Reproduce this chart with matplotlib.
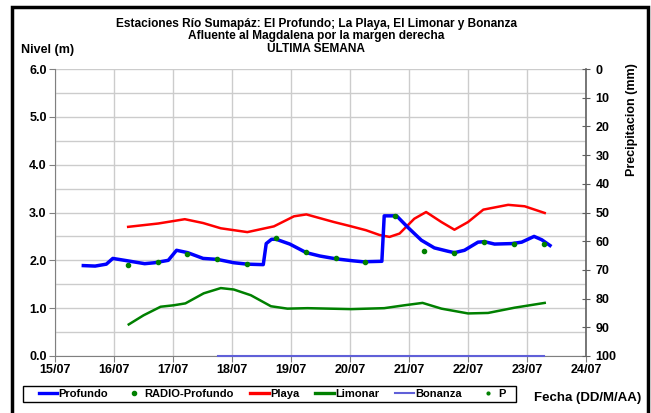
import matplotlib.pyplot as plt
from matplotlib.lines import Line2D
from matplotlib.patches import Rectangle
import numpy as np

plt.rcParams['font.family'] = ['Liberation Sans', 'DejaVu Sans']
plt.rcParams['font.weight'] = 'bold'

# dias de julio (fraccion del dia) y niveles
prof_dia = [15.48, 15.68, 15.87, 15.98, 16.18, 16.52, 16.69, 16.92, 17.06, 17.25,
            17.51, 17.75, 18.03, 18.26, 18.53, 18.58, 18.67, 18.75, 18.98, 19.26,
            19.49, 19.77, 20.05, 20.22, 20.54, 20.58, 20.79, 20.98, 21.21, 21.43,
            21.66, 21.77, 21.94, 22.17, 22.28, 22.45, 22.74, 22.91, 23.12, 23.25, 23.39]
prof_niv = [1.89, 1.88, 1.92, 2.04, 2.00, 1.93, 1.95, 2.00, 2.21, 2.16,
            2.04, 2.02, 1.95, 1.92, 1.91, 2.35, 2.44, 2.44, 2.34, 2.16,
            2.09, 2.03, 1.99, 1.97, 1.98, 2.93, 2.93, 2.69, 2.42, 2.26,
            2.19, 2.16, 2.21, 2.38, 2.39, 2.34, 2.35, 2.38, 2.50, 2.43, 2.31]

radio_dia = [16.24, 16.74, 17.24, 17.75, 18.25, 18.75, 19.26, 19.76, 20.26, 20.77,
             21.26, 21.77, 22.27, 22.78, 23.29]
radio_niv = [1.91, 1.97, 2.13, 2.02, 1.92, 2.47, 2.17, 2.05, 1.97, 2.92,
             2.19, 2.16, 2.39, 2.35, 2.34]

playa_dia = [16.24, 16.75, 17.20, 17.51, 17.81, 18.26, 18.71, 19.05, 19.26, 19.73,
             19.99, 20.27, 20.50, 20.67, 20.84, 21.09, 21.29, 21.55, 21.77, 22.00,
             22.26, 22.68, 22.96, 23.30]
playa_niv = [2.70, 2.77, 2.86, 2.78, 2.67, 2.59, 2.71, 2.92, 2.96, 2.80,
             2.72, 2.63, 2.53, 2.49, 2.56, 2.87, 3.01, 2.80, 2.64, 2.80,
             3.06, 3.16, 3.13, 2.99]

limo_dia = [16.25, 16.50, 16.79, 17.01, 17.21, 17.52, 17.81, 18.03, 18.32, 18.66,
            18.94, 19.28, 20.02, 20.58, 20.92, 21.23, 21.55, 22.00, 22.34, 22.79, 23.30]
limo_niv = [0.66, 0.85, 1.03, 1.06, 1.10, 1.31, 1.42, 1.39, 1.27, 1.04,
            0.99, 1.00, 0.98, 1.00, 1.06, 1.11, 0.99, 0.89, 0.90, 1.01, 1.11]

bona_dia = [17.76, 23.28]
bona_niv = [0.0, 0.0]

p_dia = []
p_mm = []

dias = list(range(15, 25))
etiq_dias = ['%02d/07' % d for d in dias]

fig = plt.figure(figsize=(6.51, 4.13), dpi=100)
ax = fig.add_axes([55/651, 1-356/413, (586-55)/651, (356-69)/413])

ax.plot(prof_dia, prof_niv, color='#0000ff', lw=2.5, zorder=4)
ax.plot(radio_dia, radio_niv, 'o', color='#008000', ms=3, zorder=5)
ax.plot(playa_dia, playa_niv, color='#ff0000', lw=1.8, zorder=3)
ax.plot(limo_dia, limo_niv, color='#008000', lw=1.8, zorder=3)
ax.plot(bona_dia, bona_niv, color='#6060d8', lw=1.5, zorder=3, clip_on=False)

ax.set_xlim(15, 24)
ax.set_ylim(0, 6)
ax.set_xticks(dias)
ax.set_xticklabels(etiq_dias)
ax.set_yticks(np.arange(0, 6.1, 1.0))
ax.set_yticks(np.arange(0, 6.1, 0.5), minor=True)
ax.yaxis.set_major_formatter(plt.FormatStrFormatter('%.1f'))
ax.grid(True, which='both', color='#cccccc', lw=1.0)
ax.tick_params(axis='y', which='minor', length=0)
ax.tick_params(labelsize=9, length=4, color='#808080', pad=2)
ax.set_axisbelow(True)
for s in ['top', 'right']:
    ax.spines[s].set_visible(False)
for s in ['left', 'bottom']:
    ax.spines[s].set_color('#808080')

ax2 = ax.twinx()
ax2.plot(p_dia, p_mm, 'o', color='#008000', ms=2)
ax2.set_ylim(100, 0)
ax2.set_yticks(np.arange(0, 101, 10))
ax2.tick_params(labelsize=9, length=6, direction='inout', color='#606060', pad=4)
for s in ['top', 'left', 'bottom']:
    ax2.spines[s].set_visible(False)
ax2.spines['right'].set_color('#606060')
ax2.spines['right'].set_linewidth(1.2)

fig.text(316/651, 1-23.5/413, 'Estaciones Río Sumapáz: El Profundo; La Playa, El Limonar y Bonanza',
         ha='center', va='center', fontsize=8.6)
fig.text(316/651, 1-36.5/413, 'Afluente al Magdalena por la margen derecha',
         ha='center', va='center', fontsize=8.6)
fig.text(316/651, 1-49/413, 'ULTIMA SEMANA', ha='center', va='center', fontsize=8.6)
fig.text(21/651, 1-50/413, 'Nivel (m)', ha='left', va='center', fontsize=9)
fig.text(632/651, 1-120/413, 'Precipitacion (mm)', ha='center', va='center',
         rotation=90, fontsize=9)
fig.text(641/651, 1-398/413, 'Fecha (DD/M/AA)', ha='right', va='center', fontsize=9.5)

handles = [
    Line2D([], [], color='#0000ff', lw=2.4),
    Line2D([], [], marker='o', color='#008000', ms=3, ls='none'),
    Line2D([], [], color='#ff0000', lw=2.4),
    Line2D([], [], color='#008000', lw=2.4),
    Line2D([], [], color='#6060d8', lw=1.5),
    Line2D([], [], marker='o', color='#008000', ms=2, ls='none'),
]
labels = ['Profundo', 'RADIO-Profundo', 'Playa', 'Limonar', 'Bonanza', 'P']
leg = fig.legend(handles, labels, ncol=6, loc='center',
                 bbox_to_anchor=(272/651, 1-394/413), fontsize=8,
                 frameon=False, handlelength=1.7, handletextpad=0.1,
                 columnspacing=1.45, borderpad=0.2)

# marco de la leyenda
fig.patches.append(Rectangle((23/651, 1-402/413), (516-23)/651, 16/413,
                             transform=fig.transFigure, fill=False,
                             edgecolor='black', lw=1.0))
# marco exterior
fig.patches.append(Rectangle((12/651, -0.05), (648-12)/651, 1.05 - 6.5/413,
                             transform=fig.transFigure, fill=False,
                             edgecolor='black', lw=2.5))

fig.savefig('out.png', dpi=100)
